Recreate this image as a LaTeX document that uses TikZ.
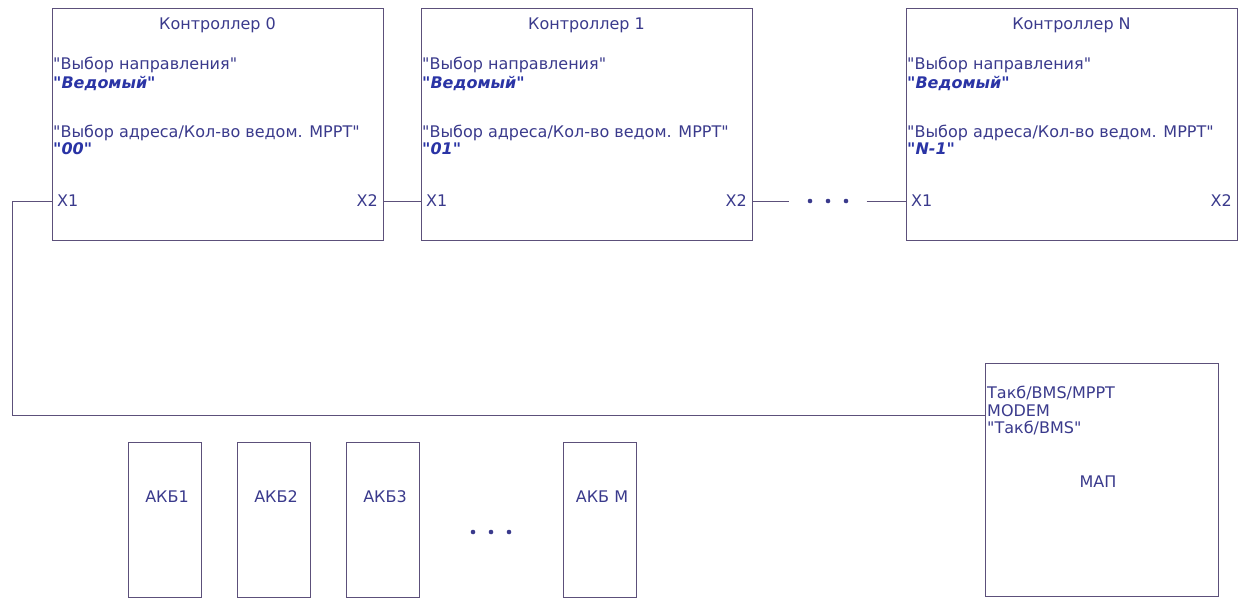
\documentclass[tikz,border=0pt]{standalone}
\usepackage{fontspec}
\setmainfont[Ligatures=TeXOff]{DejaVu Sans}
\definecolor{ink}{RGB}{58,58,140}
\definecolor{inkb}{RGB}{42,52,165}
\definecolor{frame}{RGB}{92,80,122}

\begin{document}
\begin{tikzpicture}[x=1pt,y=1pt,yscale=-1,xscale=1,
  box/.style={draw=frame, line width=0.9pt, inner sep=0pt, anchor=north west},
  txt/.style={text=ink, font=\fontsize{16}{18}\selectfont, inner sep=0pt},
  val/.style={txt, text=inkb, font=\fontsize{16}{18}\selectfont\bfseries\itshape},
  wire/.style={draw=frame, line width=0.9pt}]
\useasboundingbox (0,0) rectangle (1239,598);

% Controllers
\foreach \n/\x/\lab/\adr in {c0/52/0/00, c1/421/1/01, cN/906/N/N-1} {
  \node[box, minimum width=331pt, minimum height=232pt] (\n) at (\x,8) {};
  \node[txt] at (\x+165.5,25) {Контроллер \lab};
  \node[txt, anchor=west] at (\x+1,65) {"Выбор направления"};
  \node[val, anchor=west] at (\x+1,83) {"Ведомый"};
  \node[txt, anchor=west] at (\x+1,133) {"Выбор адреса/Кол-во ведом. MPPT"};
  \node[val, anchor=west] at (\x+1,149) {"\adr"};
  \node[txt, anchor=west] (\n x1) at (\x+5,201) {X1};
  \node[txt, anchor=east] (\n x2) at (\x+326,201) {X2};
}

% MAP
\node[box, minimum width=233pt, minimum height=233pt] (map) at (985,363) {};
\node[txt, anchor=west] at (987,393) {Такб/BMS/MPPT};
\node[txt, anchor=west] at (987,411) {MODEM};
\node[txt, anchor=west] at (987,428) {"Такб/BMS"};
\node[txt] at (1098,482) {МАП};

% Batteries
\foreach \n/\x/\lab in {akb1/128/АКБ1, akb2/237/АКБ2, akb3/346/АКБ3, akbm/563/АКБ М} {
  \node[box, minimum width=73pt, minimum height=155pt] (\n) at (\x,442) {};
  \node[txt] at (\x+39,497) {\lab};
}

% dots
\node[inner sep=0pt, minimum width=77pt] (gap) at (828,201) {};
\node[inner sep=0pt, minimum width=40pt] (gapb) at (491,532) {};
\foreach \g in {gap,gapb}
  \foreach \dx in {-18,0,18}
    \fill[ink] ([xshift=\dx pt]\g.center) circle (2.3pt);

% wires
\coordinate (bus) at (12,415);
\draw[wire] (c0.west |- c0x1) -| (bus) -- (map.west |- bus);
\draw[wire] (c0.east |- c0x2) -- (c1.west |- c1x1);
\draw[wire] (c1.east |- gap) -- (gap.west);
\draw[wire] (gap.east) -- (cN.west |- gap);

\end{tikzpicture}
\end{document}
